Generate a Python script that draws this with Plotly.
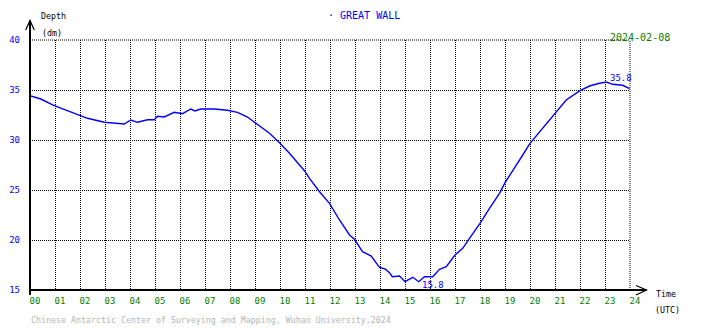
import plotly.graph_objects as go

# ---- data ----
hours = [0, 0.43, 0.97, 1.5, 1.9, 2.3, 2.97, 3.5, 3.77, 4.03, 4.3, 4.7, 4.97, 5.1,
         5.37, 5.77, 6.1, 6.43, 6.6, 6.83, 7.37, 7.9, 8.3, 8.7, 9.07, 9.18, 9.58,
         9.98, 10.38, 10.78, 10.98, 11.18, 11.58, 11.98, 12.38, 12.78, 12.98, 13.3,
         13.65, 13.98, 14.2, 14.38, 14.49, 14.78, 15.0, 15.31, 15.55, 15.78, 16.11,
         16.38, 16.65, 17.0, 17.31, 17.58, 18.0, 18.38, 18.78, 19.0, 19.31, 19.71,
         20.0, 20.38, 20.65, 21.0, 21.45, 22.0, 22.38, 22.78, 23.05, 23.31, 23.71,
         23.98]
depth = [34.43, 34.1, 33.43, 32.9, 32.5, 32.17, 31.77, 31.67, 31.6, 32.0, 31.77,
         32.03, 32.03, 32.37, 32.3, 32.77, 32.63, 33.1, 32.9, 33.1, 33.1, 32.97,
         32.77, 32.3, 31.63, 31.4, 30.67, 29.73, 28.67, 27.5, 26.93, 26.17, 24.83,
         23.67, 22.0, 20.5, 20.07, 18.83, 18.4, 17.25, 17.1, 16.73, 16.33, 16.4,
         15.83, 16.27, 15.83, 16.33, 16.33, 17.07, 17.33, 18.5, 19.17, 20.17, 21.67,
         23.17, 24.67, 25.73, 27.0, 28.5, 29.67, 30.83, 31.67, 32.67, 34.0, 34.93,
         35.4, 35.67, 35.8, 35.57, 35.47, 35.13]
x_ticks = list(range(0, 25))
x_tick_labels = [f"{h:02d}" for h in x_ticks]
y_ticks = [15, 20, 25, 30, 35, 40]
y_tick_labels = [str(v) for v in y_ticks]
station = "GREAT WALL"
date_label = "2024-02-08"
footer = "Chinese Antarctic Center of Surveying and Mapping, Wuhan University,2024"

W, H = 710, 328
ML, MR, MT, MB = 30, 80, 40, 38
PW, PH = W - ML - MR, H - MT - MB
FONT = "DejaVu Sans Mono"
DOT = "1px,1px"


def px(x):
    return (x - ML) / PW


def py(y):
    return (H - MB - y) / PH


fig = go.Figure()
fig.add_trace(go.Scatter(x=hours, y=depth, mode="lines",
                         line=dict(color="#0000ff", width=1.4),
                         hoverinfo="skip", showlegend=False))

imax = max(range(len(depth)), key=lambda i: depth[i])
imin = min(range(len(depth)), key=lambda i: depth[i])

annotations = [
    dict(x=hours[imax], y=depth[imax], xref="x", yref="y", text=f"{depth[imax]:.1f}",
         showarrow=False, xanchor="left", yanchor="middle", xshift=2, yshift=4,
         font=dict(family=FONT, size=9, color="#0000ff")),
    dict(x=hours[imin], y=depth[imin], xref="x", yref="y", text=f"{depth[imin]:.1f}",
         showarrow=False, xanchor="left", yanchor="middle", xshift=15, yshift=-3.5,
         font=dict(family=FONT, size=9, color="#0000ff")),
    dict(x=px(326), y=py(16), xref="paper", yref="paper", text="· " + station,
         showarrow=False, xanchor="left", yanchor="middle",
         font=dict(family=FONT, size=10, color="#0000ff")),
    dict(x=px(672), y=py(37), xref="paper", yref="paper", text=date_label,
         showarrow=False, xanchor="right", yanchor="middle",
         font=dict(family=FONT, size=10, color="#008000")),
    dict(x=px(39), y=py(16), xref="paper", yref="paper", text="Depth",
         showarrow=False, xanchor="left", yanchor="middle",
         font=dict(family=FONT, size=8.3, color="#000000")),
    dict(x=px(40), y=py(33), xref="paper", yref="paper", text="(dm)",
         showarrow=False, xanchor="left", yanchor="middle",
         font=dict(family=FONT, size=8.3, color="#000000")),
    dict(x=px(654), y=py(294), xref="paper", yref="paper", text="Time",
         showarrow=False, xanchor="left", yanchor="middle",
         font=dict(family=FONT, size=8.3, color="#000000")),
    dict(x=px(653), y=py(310), xref="paper", yref="paper", text="(UTC)",
         showarrow=False, xanchor="left", yanchor="middle",
         font=dict(family=FONT, size=8.3, color="#000000")),
    dict(x=px(29), y=py(320), xref="paper", yref="paper", text=footer,
         showarrow=False, xanchor="left", yanchor="middle",
         font=dict(family=FONT, size=8.3, color="#b4b4b4")),
]

shapes = []
# top and right dotted border gridlines
shapes.append(dict(type="line", xref="paper", yref="paper", x0=0, x1=1, y0=1, y1=1,
                   line=dict(color="black", width=1, dash=DOT)))
shapes.append(dict(type="line", xref="paper", yref="paper", x0=1, x1=1, y0=0, y1=1,
                   line=dict(color="black", width=1, dash=DOT)))
# y axis with arrow
shapes.append(dict(type="line", xref="paper", yref="paper", x0=px(30), x1=px(30),
                   y0=py(295), y1=py(20.5), line=dict(color="black", width=2)))
shapes.append(dict(type="path", xref="paper", yref="paper",
                   path=f"M {px(25.7)} {py(30)} L {px(30)} {py(20.5)} L {px(34.3)} {py(30)}",
                   line=dict(color="black", width=1.2)))
# x axis with arrow
shapes.append(dict(type="line", xref="paper", yref="paper", x0=px(30), x1=px(646.5),
                   y0=py(290), y1=py(290), line=dict(color="black", width=2)))
shapes.append(dict(type="path", xref="paper", yref="paper",
                   path=f"M {px(636)} {py(285.5)} L {px(646.5)} {py(290)} L {px(636)} {py(295)}",
                   line=dict(color="black", width=1.2)))

fig.update_layout(
    width=W, height=H,
    margin=dict(l=ML, r=MR, t=MT, b=MB, autoexpand=False),
    paper_bgcolor="white", plot_bgcolor="white",
    showlegend=False,
    annotations=annotations,
    shapes=shapes,
    xaxis=dict(range=[0, 24], tickmode="array", tickvals=x_ticks, ticktext=x_tick_labels,
               showgrid=True, gridcolor="black", griddash=DOT, gridwidth=1,
               zeroline=False, showline=False, ticks="", automargin=False,
               tickfont=dict(family=FONT, size=9, color="#008000"),
               ticklabelshift=5, ticklabelstandoff=4, fixedrange=True),
    yaxis=dict(range=[15, 40], tickmode="array", tickvals=y_ticks, ticktext=y_tick_labels,
               showgrid=True, gridcolor="black", griddash=DOT, gridwidth=1,
               zeroline=False, showline=False, ticks="", automargin=False,
               tickfont=dict(family=FONT, size=9, color="#0000ff"),
               ticklabelstandoff=9, fixedrange=True),
)

fig.write_html("out.html", config={"displayModeBar": False},
               post_script="document.body.style.margin='0';document.body.style.padding='0';")
